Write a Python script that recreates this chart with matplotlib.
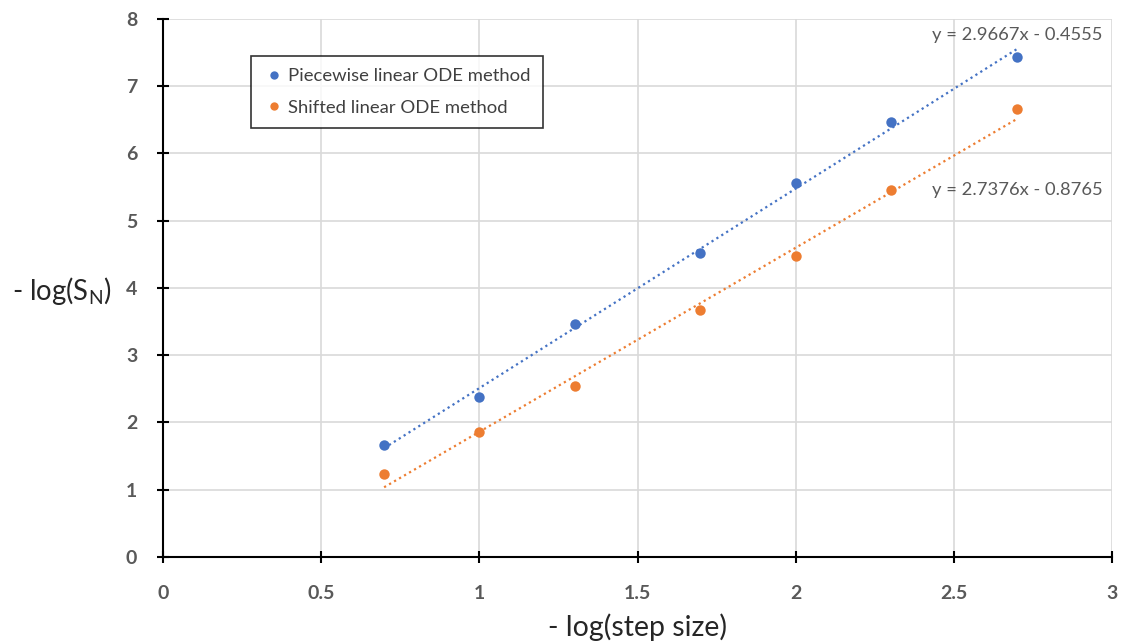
import matplotlib
matplotlib.use("Agg")
import matplotlib.pyplot as plt
import numpy as np

plt.rcParams['font.family'] = ['Lato', 'DejaVu Sans']

x_vals = [0.699, 1.0, 1.301, 1.699, 2.0, 2.301, 2.699]
piecewise = [1.66, 2.38, 3.47, 4.52, 5.56, 6.47, 7.44]
shifted = [1.24, 1.86, 2.54, 3.68, 4.47, 5.46, 6.66]
slopes = [2.9667, 2.7376]
intercepts = [-0.4555, -0.8765]
series_names = ["Piecewise linear ODE method", "Shifted linear ODE method"]
eq_labels = ["y = 2.9667x - 0.4555", "y = 2.7376x - 0.8765"]
colors = ["#4472C4", "#ED7D31"]
x_ticks = [0, 0.5, 1, 1.5, 2, 2.5, 3]
x_tick_labels = ["0", "0.5", "1", "1.5", "2", "2.5", "3"]
y_ticks = [0, 1, 2, 3, 4, 5, 6, 7, 8]

fig = plt.figure(figsize=(11.21, 6.44), dpi=100)
ax = fig.add_axes([0.1454, 0.1351, 0.8466, 0.8354])

xs = np.array(x_vals)
for ys, m, b, name, c in zip([piecewise, shifted], slopes, intercepts, series_names, colors):
    ax.plot(xs, ys, 'o', color=c, markersize=7.5, label=name, zorder=3, markeredgewidth=0)
    xl = np.array([xs.min(), xs.max()])
    ax.plot(xl, m * xl + b, linestyle=(0, (1, 1.6)), color=c, linewidth=1.6, zorder=2)

ax.set_xlim(0, 3)
ax.set_ylim(0, 8)
ax.set_xticks(x_ticks)
ax.set_xticklabels(x_tick_labels)
ax.set_yticks(y_ticks)
ax.grid(True, color="#D9D9D9", linewidth=1.2, zorder=0)
ax.set_axisbelow(True)
for s in ['top', 'right']:
    ax.spines[s].set_visible(False)
for s in ['left', 'bottom']:
    ax.spines[s].set_color('black')
    ax.spines[s].set_linewidth(1.5)
ax.tick_params(axis='both', direction='inout', length=9, width=1.5, color='black',
               labelsize=14, labelcolor='#595959')
ax.tick_params(axis='x', pad=16)
ax.tick_params(axis='y', pad=14)
for lab in ax.get_xticklabels() + ax.get_yticklabels():
    lab.set_fontweight('bold')

ax.text(2.97, 7.76, eq_labels[0], ha='right', va='center', fontsize=13.2, color='#595959')
ax.text(2.97, 5.46, eq_labels[1], ha='right', va='center', fontsize=13.2, color='#595959')

ax.set_xlabel("- log(step size)", fontsize=20.5, color='#262626', labelpad=8)
fig.text(0.0555, 0.548, r"- log(S$_\mathregular{N}$)", fontsize=19.8, color='#262626',
         ha='center', va='center')

leg = ax.legend(loc='upper left', bbox_to_anchor=(0.0835, 0.948), frameon=True,
                fancybox=False, edgecolor='black', fontsize=13.3, handletextpad=0.25,
                labelspacing=0.85, borderpad=0.65, handlelength=1.1, markerscale=0.8)
leg.get_frame().set_linewidth(1.2)
for t in leg.get_texts():
    t.set_color('#404040')

fig.savefig("out.png", dpi=100)
